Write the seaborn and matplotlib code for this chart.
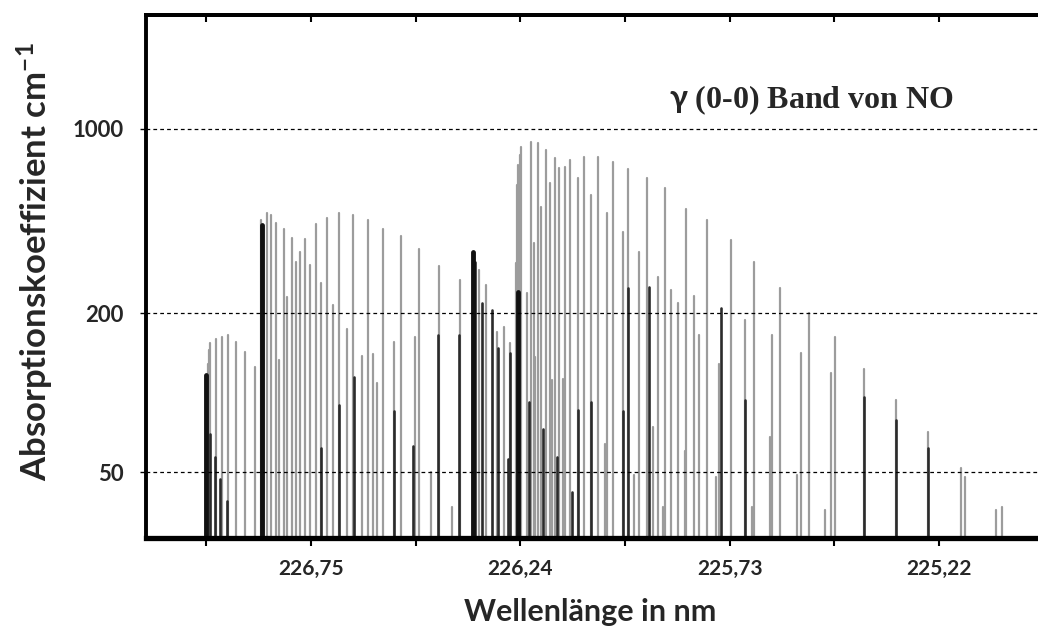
import numpy as np
import pandas as pd
import seaborn as sns
import matplotlib.pyplot as plt

# light (gray) absorption lines: wavelength in nm, absorption coefficient in cm^-1
gray_wl = [227.002, 226.999, 226.995, 226.982, 226.967, 226.953, 226.933, 226.912, 226.886,
           226.873, 226.866, 226.858, 226.847, 226.835, 226.829, 226.817, 226.809, 226.797,
           226.786, 226.777, 226.764, 226.752, 226.738, 226.725, 226.710, 226.697, 226.682,
           226.663, 226.647, 226.626, 226.612, 226.598, 226.590, 226.574, 226.548, 226.531,
           226.496, 226.487, 226.458, 226.439, 226.407, 226.387,
           226.340, 226.324, 226.296, 226.281, 226.265,
           226.250, 226.249, 226.246, 226.242, 226.238, 226.224, 226.214, 226.208, 226.204,
           226.196, 226.190, 226.177, 226.169, 226.163, 226.155, 226.145, 226.135, 226.131,
           226.119, 226.099, 226.086, 226.068, 226.052, 226.034, 226.028, 226.015, 225.991,
           225.977, 225.963, 225.950, 225.931, 225.918, 225.904, 225.892, 225.887, 225.874,
           225.856, 225.840, 225.836, 225.817, 225.805, 225.786, 225.763, 225.755, 225.727,
           225.693, 225.676, 225.670, 225.632, 225.626, 225.607, 225.567, 225.556, 225.538,
           225.499, 225.483, 225.473, 225.402, 225.326, 225.246, 225.166, 225.157, 225.082,
           225.067]
gray_val = [128, 145, 154, 160, 163, 165, 155, 143, 125,
            450, 245, 478, 470, 440, 133, 418, 230, 385,
            313, 340, 382, 305, 434, 260, 458, 215, 478,
            175, 470, 138, 450, 140, 109, 418, 155, 392,
            162, 350, 50, 302, 37, 267,
            291, 255, 170, 178, 154,
            310, 611, 727, 793, 851, 238, 890, 369, 137,
            881, 505, 829, 621, 112, 773, 709, 113, 715,
            760, 650, 780, 560, 780, 64, 480, 747, 406,
            703, 49, 340, 650, 74, 274, 37, 595, 245,
            218, 60, 496, 232, 165, 450, 48, 128, 379,
            189, 37, 313, 68, 165, 249, 49, 142, 200,
            36, 119, 162, 123, 94, 71, 52, 48, 36,
            37]

# dark absorption lines
dark_wl = [226.996, 226.984, 226.971, 226.955, 226.725, 226.682, 226.645, 226.548, 226.501,
           226.441, 226.389, 226.350, 226.334, 226.310, 226.294, 226.269, 226.265, 226.219,
           226.185, 226.151, 226.115, 226.099, 226.068, 225.991, 225.977, 225.926, 225.752,
           225.693, 225.402, 225.326, 225.246]
dark_val = [70, 57, 47, 39, 62, 90, 115, 85, 63,
            165, 165, 313, 218, 206, 148, 56, 141, 92,
            73, 57, 42, 86, 92, 85, 249, 251, 209,
            94, 96, 79, 62]

# band heads
head_wl = [227.006, 226.870, 226.355, 226.247]
head_val = [117, 430, 340, 240]

xtick_vals = [226.75, 226.24, 225.73, 225.22]
xtick_labels = ['226,75', '226,24', '225,73', '225,22']
xminor_vals = [227.005, 226.495, 225.985, 225.475]
ytick_vals = [50, 200, 1000]
ytick_labels = ['50', '200', '1000']

BASE = 28.2


def stems(wl, val):
    n = len(wl)
    return pd.DataFrame({
        'line': np.repeat(np.arange(n), 2),
        'wl': np.repeat(wl, 2),
        'val': np.column_stack([np.full(n, BASE), val]).ravel(),
    })


sns.set_style('white')
plt.rcParams['font.family'] = ['Lato', 'DejaVu Sans']
plt.rcParams['mathtext.fontset'] = 'custom'
plt.rcParams['mathtext.rm'] = 'Lato'
plt.rcParams['mathtext.bf'] = 'Lato:bold'
plt.rcParams['mathtext.default'] = 'bf'

fig = plt.figure(figsize=(10.38, 6.44), dpi=100)
ax = fig.add_axes([0.1407, 0.1646, 0.8593, 0.8121])

sns.lineplot(data=stems(gray_wl, gray_val), x='wl', y='val', units='line', estimator=None,
             sort=False, color='#9c9c9c', linewidth=1.6, ax=ax, legend=False)
sns.lineplot(data=stems(dark_wl, dark_val), x='wl', y='val', units='line', estimator=None,
             sort=False, color='#2b2b2b', linewidth=1.9, ax=ax, legend=False)
sns.lineplot(data=stems(head_wl, head_val), x='wl', y='val', units='line', estimator=None,
             sort=False, color='#111111', linewidth=3.5, ax=ax, legend=False)

ax.set_yscale('log')
ax.set_xlim(227.152, 224.979)
ax.set_ylim(BASE, 2690)

for v in ytick_vals:
    ax.axhline(v, color='black', linewidth=0.9, linestyle=(0, (3, 2.5)), zorder=4)

ax.set_xticks(xtick_vals)
ax.set_xticklabels(xtick_labels)
ax.set_xticks(xminor_vals, minor=True)
ax.set_yticks(ytick_vals)
ax.set_yticklabels(ytick_labels)
ax.yaxis.set_minor_locator(plt.NullLocator())

ax.tick_params(axis='x', which='both', direction='out', length=6, width=1.5,
               color='black', top=False, bottom=True, pad=9, labelsize=15)
ax.tick_params(axis='y', which='major', left=True, length=4, width=1,
               color='black', pad=12, labelsize=16)
for lbl in ax.get_xticklabels() + ax.get_yticklabels():
    lbl.set_fontweight('bold')

# small inward ticks along the top frame
top = ax.secondary_xaxis('top')
top.set_xticks(xtick_vals + xminor_vals)
top.tick_params(direction='in', length=5, width=1.5, color='black', labeltop=False)
top.spines['top'].set_linewidth(2.8)
top.spines['top'].set_color('black')

ax.set_xlabel('')
ax.set_ylabel('')
for side in ['left', 'top', 'bottom']:
    ax.spines[side].set_color('black')
ax.spines['left'].set_linewidth(2.8)
ax.spines['top'].set_linewidth(2.8)
ax.spines['bottom'].set_linewidth(3.8)
ax.spines['right'].set_visible(False)

fig.text(0.782, 0.845, r'$\gamma$ (0-0) Band von NO', family='Liberation Serif',
         fontweight='bold', fontsize=23, ha='center', va='center')
fig.text(0.034, 0.593, r'Absorptionskoeffizient cm$^{-1}$', rotation=90,
         fontweight='bold', fontsize=25, ha='center', va='center')
fig.text(0.569, 0.05, 'Wellenlänge in nm', fontweight='bold', fontsize=22,
         ha='center', va='center')

fig.savefig('out.png', dpi=100)
